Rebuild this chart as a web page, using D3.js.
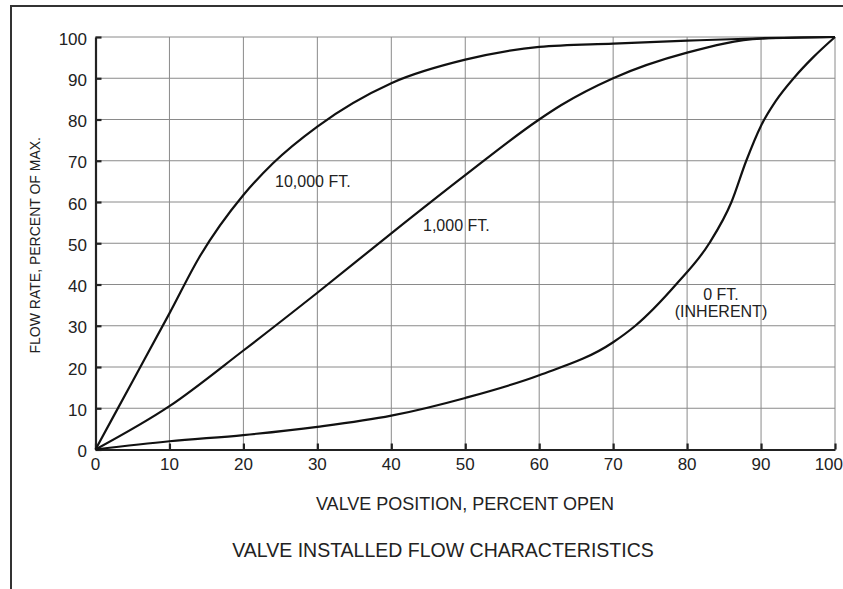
<!DOCTYPE html>
<html>
<head>
<meta charset="utf-8">
<script src="https://cdn.jsdelivr.net/npm/d3@7"></script>
<style>
  body { margin: 0; background: #fff; }
  svg { display: block; }
  text { font-family: "Liberation Sans", Arial, sans-serif; fill: #222; }
</style>
</head>
<body>
<svg width="843" height="589"></svg>
<script>
// values (valve % open -> flow % of max)
const open10000 = [0, 5, 10, 14, 20, 24, 30, 40, 50, 60, 70, 80, 90, 100];
const flow10000 = [0, 16.5, 33, 46.5, 61.7, 69.4, 78.3, 88.8, 94.5, 97.6, 98.4, 99.1, 99.7, 100];
const open1000  = [0, 10, 20, 30, 40, 50, 60, 63, 70, 80, 90, 100];
const flow1000  = [0, 10.5, 24, 38, 52.4, 66.5, 80, 83.5, 90, 96.2, 99.6, 100];
const open0     = [0, 10, 20, 30, 40, 50, 60, 70, 73, 78.5, 83, 86, 88, 90, 92, 94.5, 97, 100];
const flow0     = [0, 2, 3.5, 5.5, 8.2, 12.5, 18, 26, 30, 40, 50, 60, 70, 78.5, 84.5, 90.2, 95, 100];
const xTicks = [0, 10, 20, 30, 40, 50, 60, 70, 80, 90, 100];
const yTicks = [0, 10, 20, 30, 40, 50, 60, 70, 80, 90, 100];

const svg = d3.select("svg");
const x = d3.scaleLinear().domain([0, 100]).range([95.5, 835]);
const y = d3.scaleLinear().domain([0, 100]).range([449.5, 37]);

// outer frame (top and left only)
svg.append("path").attr("d", "M11,589 V6 H843")
   .attr("fill", "none").attr("stroke", "#333").attr("stroke-width", 2);

// grid
const grid = svg.append("g").attr("stroke", "#8a8a8a").attr("stroke-width", 1);
grid.selectAll(".gx").data(xTicks.slice(1)).enter().append("line")
    .attr("x1", d => x(d)).attr("x2", d => x(d)).attr("y1", y(0)).attr("y2", y(100));
grid.selectAll(".gy").data(yTicks.slice(1)).enter().append("line")
    .attr("x1", x(0)).attr("x2", x(100)).attr("y1", d => y(d)).attr("y2", d => y(d));

// axes with inward ticks
const xAxis = svg.append("g").attr("transform", `translate(0,${y(0)})`)
  .call(d3.axisTop(x).tickValues(xTicks).tickSize(6).tickSizeOuter(0).tickFormat(""));
const yAxis = svg.append("g").attr("transform", `translate(${x(0)},0)`)
  .call(d3.axisRight(y).tickValues(yTicks).tickSize(6).tickSizeOuter(0).tickFormat(""));
[xAxis, yAxis].forEach(a => {
  a.select(".domain").attr("stroke", "#222").attr("stroke-width", 2.2);
  a.selectAll(".tick line").attr("stroke", "#222").attr("stroke-width", 2.2);
});

// tick labels (the last one sits flush with the right edge)
svg.append("g").selectAll("text").data(xTicks).enter().append("text")
  .attr("x", d => d === 100 ? 843 : x(d)).attr("y", 470)
  .attr("text-anchor", d => d === 100 ? "end" : "middle")
  .style("font-size", "17px").text(d => d);
svg.append("g").selectAll("text").data(yTicks).enter().append("text")
  .attr("x", 87).attr("y", d => y(d) + 7.5).attr("text-anchor", "end")
  .style("font-size", "17px").text(d => d);

// curves
const line = d3.line().x(d => x(d[0])).y(d => y(d[1])).curve(d3.curveMonotoneX);
const series = [
  d3.zip(open10000, flow10000),
  d3.zip(open1000, flow1000),
  d3.zip(open0, flow0)
];
svg.append("g").selectAll("path").data(series).enter().append("path")
  .attr("d", line).attr("fill", "none").attr("stroke", "#111").attr("stroke-width", 2.2);

// curve labels
const lab = svg.append("g").style("font-size", "16px");
lab.append("text").attr("x", 275).attr("y", 187).text("10,000 FT.");
lab.append("text").attr("x", 423).attr("y", 231).text("1,000 FT.");
lab.append("text").attr("x", 721).attr("y", 300).attr("text-anchor", "middle").text("0 FT.");
lab.append("text").attr("x", 721).attr("y", 317).attr("text-anchor", "middle").text("(INHERENT)");

// axis titles
svg.append("text").attr("x", 465).attr("y", 510).attr("text-anchor", "middle")
  .style("font-size", "18px").text("VALVE POSITION, PERCENT OPEN");
svg.append("text").attr("transform", `translate(40,${y(50) + 2}) rotate(-90)`)
  .attr("text-anchor", "middle").style("font-size", "14px").text("FLOW RATE, PERCENT OF MAX.");
svg.append("text").attr("x", 443).attr("y", 557).attr("text-anchor", "middle")
  .style("font-size", "19.5px").text("VALVE INSTALLED FLOW CHARACTERISTICS");
</script>
</body>
</html>
